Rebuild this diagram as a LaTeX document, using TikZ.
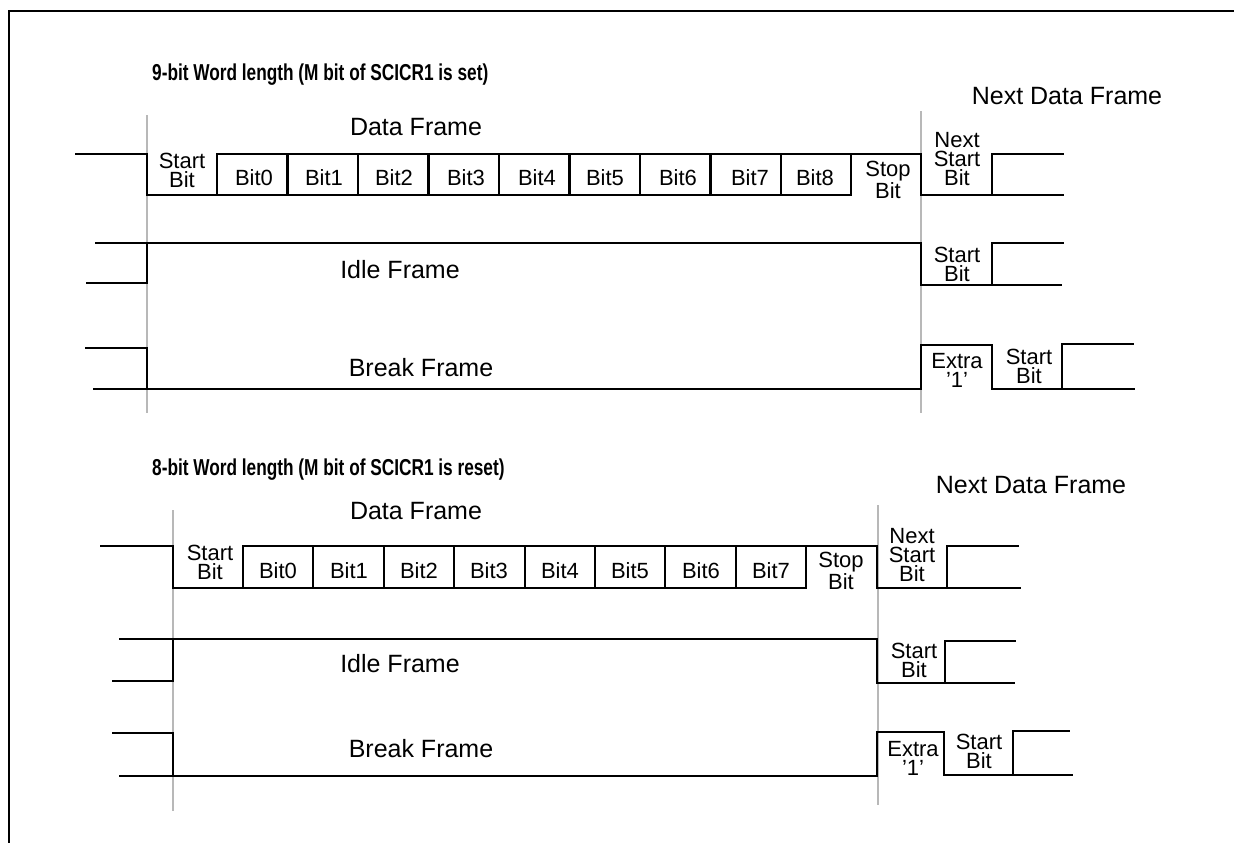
\documentclass[tikz,border=0pt]{standalone}
\usepackage{fontspec}
\setmainfont{Liberation Sans}
\newfontfamily\narrowsans[FakeStretch=0.75]{Liberation Sans}
\usepackage{tikz}

\begin{document}
\begin{tikzpicture}[
  x=1pt, y=-1pt,
  wave/.style={draw=black, line width=2.6pt, line cap=rect},
  guide/.style={draw=black!28, line width=2.6pt},
  cell/.style={font=\fontsize{22}{19}\selectfont, align=center, inner sep=0pt},
  frame/.style={font=\fontsize{25}{30}\selectfont, inner sep=0pt},
  titre/.style={font=\narrowsans\bfseries\fontsize{23}{26}\selectfont, anchor=base west, inner sep=0pt}
]
\useasboundingbox (0,0) rectangle (1234,843);
\draw[line width=2.8pt] (9,843) -- (9,11) -- (1234,11);

% ----- 1. 9-bit word -----
\node[titre] (t9) at (152,81) {9-bit Word length (M bit of SCICR1 is set)};
\draw[guide] (147,115) -- (147,413);
\draw[guide] (921,111) -- (921,413);

% data frame
\node[frame] (df9) at (416,127) {Data Frame};
\node[frame] (nd9) at (1067,96) {Next Data Frame};
\draw[wave] (76,154) -- (147,154) -- (147,195) -- (851,195);
\draw[wave] (217,154) -- (921,154) -- (921,195) -- (1063,195);
\draw[wave] (217,154) -- ++(0,41) (287.5,154) -- ++(0,41) (358,154) -- ++(0,41)
  (428.5,154) -- ++(0,41) (499,154) -- ++(0,41) (569.5,154) -- ++(0,41)
  (640,154) -- ++(0,41) (710.5,154) -- ++(0,41) (781,154) -- ++(0,41)
  (851,154) -- ++(0,41);
\draw[wave] (992,195) -- (992,154) -- (1063,154);
\node[cell] (s9) at (182,170) {Start\\Bit};
\node[cell] (b90) at (254,178) {Bit0};
\node[cell] (b91) at (324,178) {Bit1};
\node[cell] (b92) at (394,178) {Bit2};
\node[cell] (b93) at (466,178) {Bit3};
\node[cell] (b94) at (537,178) {Bit4};
\node[cell] (b95) at (605,178) {Bit5};
\node[cell] (b96) at (678,178) {Bit6};
\node[cell] (b97) at (750,178) {Bit7};
\node[cell] (b98) at (815,178) {Bit8};
\node[cell] (p9) at (888,180) {Stop\\Bit};
\node[cell] (n9) at (957,159) {Next\\Start\\Bit};

% idle frame
\node[frame] (if9) at (400,270) {Idle Frame};
\draw[wave] (96,243) -- (921,243) -- (921,285) -- (1061,285);
\draw[wave] (87,283) -- (147,283) -- (147,243);
\draw[wave] (992,285) -- (992,243) -- (1063,243);
\node[cell] (is9) at (957,264) {Start\\Bit};

% break frame
\node[frame] (bf9) at (421,368) {Break Frame};
\draw[wave] (86,348) -- (147,348) -- (147,389);
\draw[wave] (94,389) -- (921,389) -- (921,345) -- (992,345) -- (992,389) -- (1134,389);
\draw[wave] (1062,389) -- (1062,344) -- (1133,344);
\node[cell] (x9) at (957,370) {Extra\\'1'};
\node[cell] (bs9) at (1029,366) {Start\\Bit};

% ----- 2. 8-bit word -----
\node[titre] (t8) at (152,475) {8-bit Word length (M bit of SCICR1 is reset)};
\draw[guide] (173,510) -- (173,811);
\draw[guide] (878,505) -- (878,805);

% data frame
\node[frame] (df8) at (416,511) {Data Frame};
\node[frame] (nd8) at (1031,485) {Next Data Frame};
\draw[wave] (101,546) -- (173,546) -- (173,588) -- (806,588);
\draw[wave] (243,546) -- (877,546) -- (877,588) -- (1020,588);
\draw[wave] (243,546) -- ++(0,42) (313,546) -- ++(0,42) (384,546) -- ++(0,42)
  (454,546) -- ++(0,42) (525,546) -- ++(0,42) (595,546) -- ++(0,42)
  (665,546) -- ++(0,42) (736,546) -- ++(0,42) (806,546) -- ++(0,42);
\draw[wave] (947,588) -- (947,546) -- (1018,546);
\node[cell] (s8) at (210,562) {Start\\Bit};
\node[cell] (b80) at (278,571) {Bit0};
\node[cell] (b81) at (349,571) {Bit1};
\node[cell] (b82) at (419,571) {Bit2};
\node[cell] (b83) at (489,571) {Bit3};
\node[cell] (b84) at (560,571) {Bit4};
\node[cell] (b85) at (630,571) {Bit5};
\node[cell] (b86) at (701,571) {Bit6};
\node[cell] (b87) at (771,571) {Bit7};
\node[cell] (p8) at (841,571) {Stop\\Bit};
\node[cell] (n8) at (912,555) {Next\\Start\\Bit};

% idle frame
\node[frame] (if8) at (400,664) {Idle Frame};
\draw[wave] (120,639) -- (877,639) -- (877,683) -- (1014,683);
\draw[wave] (113,681) -- (173,681) -- (173,639);
\draw[wave] (945,683) -- (945,641) -- (1015,641);
\node[cell] (is8) at (914,660) {Start\\Bit};

% break frame
\node[frame] (bf8) at (421,749) {Break Frame};
\draw[wave] (113,733) -- (173,733) -- (173,776);
\draw[wave] (120,776) -- (877,776) -- (877,732) -- (944,732) -- (944,775) -- (1072,775);
\draw[wave] (1013,775) -- (1013,731) -- (1069,731);
\node[cell] (x8) at (913,758) {Extra\\'1'};
\node[cell] (bs8) at (979,751) {Start\\Bit};

\end{tikzpicture}
\end{document}
